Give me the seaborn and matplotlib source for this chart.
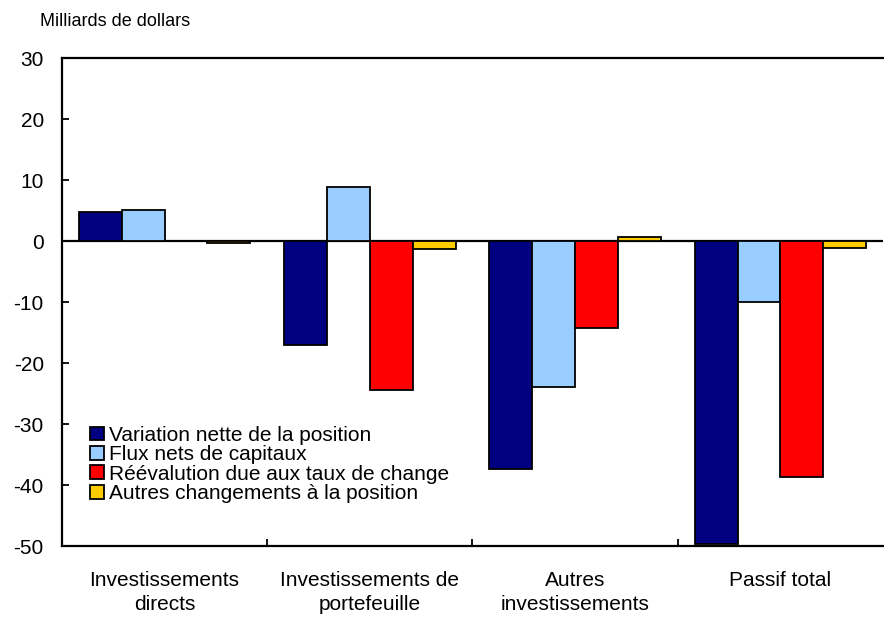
import pandas as pd
import matplotlib
matplotlib.use('Agg')
import matplotlib.pyplot as plt
import seaborn as sns

# Data (billions of dollars)
categories = ['Investissements\ndirects', 'Investissements de\nportefeuille',
              'Autres\ninvestissements', 'Passif total']
series = ['Variation nette de la position', 'Flux nets de capitaux',
          'Réévalution due aux taux de change', 'Autres changements à la position']
variation = [4.8, -17.0, -37.4, -49.6]
flux = [5.1, 8.8, -24.0, -10.0]
reevaluation = [0.0, -24.5, -14.2, -38.7]
autres = [-0.3, -1.3, 0.6, -1.1]
colors = ['#000080', '#99CCFF', '#FF0000', '#FFCC00']

rows = []
for s, vals in zip(series, [variation, flux, reevaluation, autres]):
    for c, v in zip(categories, vals):
        rows.append({'cat': c, 'serie': s, 'val': v})
df = pd.DataFrame(rows)

sns.set_style('white')
plt.rcParams['font.family'] = ['Liberation Sans', 'DejaVu Sans']
plt.rcParams['font.size'] = 15
plt.rcParams['axes.unicode_minus'] = False
plt.rcParams['text.color'] = 'black'
plt.rcParams['xtick.color'] = 'black'
plt.rcParams['ytick.color'] = 'black'

fig = plt.figure(figsize=(8.84, 6.18), dpi=100)
ax = fig.add_axes([0.070, 0.1165, 0.929, 0.7895])

sns.barplot(data=df, x='cat', y='val', hue='serie', order=categories,
            hue_order=series, palette=colors, saturation=1, width=0.835, gap=0,
            edgecolor='black', linewidth=1.3, ax=ax, legend=True)

ax.axhline(0, color='black', lw=1.6, zorder=0.5)
ax.set_ylim(-50, 30)
ax.set_xlim(-0.5, 3.5)
ax.set_yticks(range(-50, 31, 10))
ax.set_xlabel('')
ax.set_ylabel('')

for side in ['left', 'bottom', 'top']:
    ax.spines[side].set_visible(True)
    ax.spines[side].set_color('black')
    ax.spines[side].set_linewidth(1.6)
ax.spines['right'].set_visible(False)

ax.tick_params(axis='y', direction='in', length=5, width=1.3, left=True,
               pad=13, labelsize=15, colors='black')
ax.tick_params(axis='x', which='major', length=0, pad=18, labelsize=15,
               colors='black')
ax.set_xticks([0.5, 1.5, 2.5], minor=True)
ax.tick_params(axis='x', which='minor', direction='in', length=5, width=1.3,
               bottom=True)
for lab in ax.get_xticklabels():
    lab.set_linespacing(1.35)
    lab.set_ha('center')

fig.text(0.045, 0.965, 'Milliards de dollars', fontsize=13, va='center', ha='left')

handles, labels = ax.get_legend_handles_labels()
ax.legend(handles, labels, loc='upper left', bbox_to_anchor=(0.102, 0.311),
          bbox_transform=fig.transFigure, frameon=False, fontsize=15,
          handlelength=0.65, handleheight=0.65, handletextpad=0.25,
          labelspacing=0.02, borderpad=0, borderaxespad=0)

fig.savefig('out.png', dpi=100)
